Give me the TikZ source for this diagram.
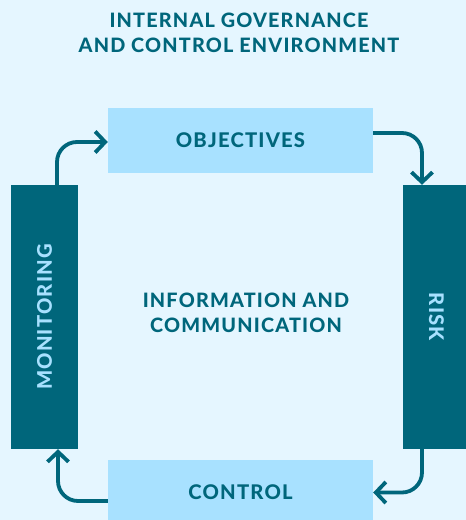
\documentclass[tikz,border=0pt]{standalone}
\usepackage{fontspec}
\setmainfont{Lato}[LetterSpace=6,BoldFont={Lato Heavy}]
\usepackage{tikz}
\usetikzlibrary{arrows.meta,positioning}
\definecolor{PageBG}  {HTML}{E5F6FF}
\definecolor{PaleBox} {HTML}{A8E1FF}
\definecolor{DeepTeal}{HTML}{00667B}

\begin{document}
\begin{tikzpicture}[x=1pt,y=-1pt,
  flatbox/.style={fill=PaleBox,draw=none,minimum width=265pt,minimum height=65pt,
                  inner sep=0pt,text=DeepTeal,font=\fontsize{20.2}{24}\selectfont\bfseries},
  sidebox/.style={fill=DeepTeal,draw=none,minimum width=67pt,minimum height=264pt,inner sep=0pt},
  sidetext/.style={text=PaleBox,inner sep=0pt,font=\fontsize{20.2}{24}\selectfont\bfseries},
  caption/.style={text=DeepTeal,align=center,inner sep=0pt,
                  font=\fontsize{19.8}{24.5}\selectfont\bfseries},
  flow/.style={-{Straight Barb[length=10pt,width=21pt]},color=DeepTeal,
               line width=3.8pt,rounded corners=20pt}
]
  \fill[PageBG] (0,0) rectangle (466,520);
  \useasboundingbox (0,0) rectangle (466,520);

  \node[caption] (title) at (239,33) {INTERNAL GOVERNANCE\\AND CONTROL ENVIRONMENT};

  \node[flatbox] (obj)  at (240.5,140.5) {OBJECTIVES};
  \node[flatbox] (ctrl) at (240.5,492.5) {CONTROL};

  \node[sidebox] (mon)  at (44.5,317) {};
  \node[sidebox] (risk) at (436.5,317) {};
  \node[sidetext,rotate=90]  (monlbl)  at (mon)  {MONITORING};
  \node[sidetext,rotate=-90] (risklbl) at (risk) {RISK};

  \node[caption] (info) at (246,313) {INFORMATION AND\\COMMUNICATION};

  \draw[flow] ([xshift=12.5pt]mon.north) |- ([yshift=-1.5pt]obj.west);
  \draw[flow] ([yshift=7.5pt]obj.east) -| ([xshift=-14.5pt]risk.north);
  \draw[flow] ([xshift=-14.5pt]risk.south) |- (ctrl.east);
  \draw[flow] ([yshift=-8.5pt]ctrl.west) -| ([xshift=13.5pt]mon.south);
\end{tikzpicture}
\end{document}
